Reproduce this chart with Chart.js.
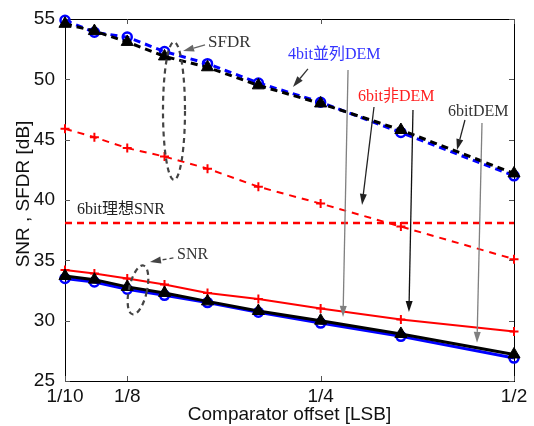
<!DOCTYPE html>
<html><head><meta charset="utf-8">
<script src="https://cdn.jsdelivr.net/npm/chart.js@4.4.0/dist/chart.umd.min.js"></script>
<style>html,body{margin:0;padding:0;background:#fff}#wrap{width:534px;height:426px;position:relative}</style>
</head><body><div id="wrap"><canvas id="c" width="534" height="426"></canvas></div>
<script>
// ---- data ----
const xValues = [1/10, 1/9, 1/8, 1/7, 1/6, 1/5, 1/4, 1/3, 1/2];
const xTickValues = [0.1, 0.125, 0.25, 0.5];
const xTickLabels = ['1/10', '1/8', '1/4', '1/2'];
const yMin = 25, yMax = 55, yStep = 5;
const sfdr4bitDEM   = [54.9, 53.9, 53.5, 52.3, 51.3, 49.7, 48.1, 45.6, 42.0];
const sfdr6bitDEM   = [54.6, 54.0, 53.1, 51.9, 51.0, 49.5, 48.0, 45.8, 42.2];
const sfdr6bitNoDEM = [45.9, 45.2, 44.3, 43.6, 42.6, 41.1, 39.7, 37.8, 35.1];
const snrIdeal6bit  = 38.1;
const snr4bitDEM    = [33.5, 33.2, 32.6, 32.1, 31.5, 30.7, 29.8, 28.7, 26.9];
const snr6bitDEM    = [33.7, 33.4, 32.8, 32.3, 31.6, 30.8, 30.0, 28.9, 27.2];
const snr6bitNoDEM  = [34.2, 33.9, 33.5, 33.0, 32.3, 31.8, 31.0, 30.1, 29.1];
const xTitle = 'Comparator offset [LSB]';
const yTitle = 'SNR , SFDR [dB]';
// annotation texts (anchored in data coordinates)
const labels = [
  {t:'SFDR',        x:0.167,  y:53.09, c:'#333333', s:17},
  {t:'4bit並列DEM', x:0.2224, y:52.02, c:'#3333ff', s:16},
  {t:'6bit非DEM',   x:0.2859, y:48.54, c:'#ff2020', s:16},
  {t:'6bitDEM',     x:0.3947, y:47.3,  c:'#333333', s:16},
  {t:'6bit理想SNR', x:0.1044, y:39.18, c:'#222222', s:16},
  {t:'SNR',         x:0.1494, y:35.45, c:'#333333', s:16}
];
const arrows = [
  {x1:0.1652, y1:52.85, x2:0.1527, y2:52.35, c:'#666666', d:false},
  {x1:0.2389, y1:50.86, x2:0.2264, y2:49.37, c:'#333333', d:false},
  {x1:0.2758, y1:50.77, x2:0.2709, y2:30.31, c:'#808080', d:false},
  {x1:0.3027, y1:47.71, x2:0.2900, y2:39.59, c:'#222222', d:false},
  {x1:0.3481, y1:47.46, x2:0.3431, y2:30.72, c:'#111111', d:false},
  {x1:0.4194, y1:46.63, x2:0.4076, y2:44.15, c:'#222222', d:false},
  {x1:0.4458, y1:46.38, x2:0.4379, y2:28.16, c:'#808080', d:false},
  {x1:0.1475, y1:35.2,  x2:0.1356, y2:34.87, c:'#444444', d:true}
];
const ellipses = [
  {x:0.1478, y:47.38},
  {x:0.1299, y:32.55}
];

const pts = arr => xValues.map((x,i)=>({x:x, y:arr[i]}));
const base = {tension:0, fill:false, clip:false};
const datasets = [
  Object.assign({}, base, {label:'SFDR 6bit DEM', data:pts(sfdr6bitDEM), borderColor:'#000', backgroundColor:'#000',
     borderWidth:3, borderDash:[7,5], pointStyle:'triangle', pointRadius:7, pointBorderWidth:1}),
  Object.assign({}, base, {label:'SFDR 4bit DEM', data:pts(sfdr4bitDEM), borderColor:'#0000ff', backgroundColor:'rgba(0,0,0,0)',
     borderWidth:3, borderDash:[7,5], pointStyle:'circle', pointRadius:4.5, pointBorderWidth:2.5}),
  Object.assign({}, base, {label:'SFDR 6bit non-DEM', data:pts(sfdr6bitNoDEM), borderColor:'#ff0000', backgroundColor:'#ff0000',
     borderWidth:2, borderDash:[7,6], pointStyle:'cross', pointRadius:4.5, pointBorderWidth:2}),
  Object.assign({}, base, {label:'6bit ideal SNR', data:[{x:xTickValues[0], y:snrIdeal6bit},{x:xTickValues[xTickValues.length-1], y:snrIdeal6bit}],
     borderColor:'#ff0000', borderWidth:2.5, borderDash:[7,5], pointRadius:0}),
  Object.assign({}, base, {label:'SNR 6bit DEM', data:pts(snr6bitDEM), borderColor:'#000', backgroundColor:'#000',
     borderWidth:3, pointStyle:'triangle', pointRadius:7, pointBorderWidth:1}),
  Object.assign({}, base, {label:'SNR 4bit DEM', data:pts(snr4bitDEM), borderColor:'#0000ff', backgroundColor:'rgba(0,0,0,0)',
     borderWidth:3, pointStyle:'circle', pointRadius:4.5, pointBorderWidth:2.5}),
  Object.assign({}, base, {label:'SNR 6bit non-DEM', data:pts(snr6bitNoDEM), borderColor:'#ff0000', backgroundColor:'#ff0000',
     borderWidth:2, pointStyle:'cross', pointRadius:4.5, pointBorderWidth:2})
];

function drawArrow(ctx, x1, y1, x2, y2, color, dashed){
  ctx.save();
  ctx.strokeStyle = color; ctx.fillStyle = color; ctx.lineWidth = 1.3;
  const a = Math.atan2(y2-y1, x2-x1), L = 11, W = 3.5;
  const bx = x2 - L*Math.cos(a), by = y2 - L*Math.sin(a);
  if (dashed) ctx.setLineDash([4,3]);
  ctx.beginPath(); ctx.moveTo(x1,y1); ctx.lineTo(bx,by); ctx.stroke();
  ctx.setLineDash([]);
  ctx.beginPath(); ctx.moveTo(x2,y2);
  ctx.lineTo(bx - W*Math.sin(a), by + W*Math.cos(a));
  ctx.lineTo(bx + W*Math.sin(a), by - W*Math.cos(a));
  ctx.closePath(); ctx.fill();
  ctx.restore();
}

const decor = {
  id:'decor',
  beforeDatasetsDraw(chart){
    const ctx = chart.ctx, xs = chart.scales.x, ys = chart.scales.y, ca = chart.chartArea;
    const X = v => xs.getPixelForValue(v), Y = v => ys.getPixelForValue(v);
    ctx.save();
    ctx.strokeStyle = '#000'; ctx.lineWidth = 1;
    ctx.strokeRect(Math.round(ca.left)+0.5, Math.round(ca.top)+0.5, Math.round(ca.right-ca.left), Math.round(ca.bottom-ca.top));
    ctx.strokeStyle = '#555';
    xs.ticks.forEach(t => {
      const px = Math.round(X(t.value))+0.5;
      ctx.beginPath(); ctx.moveTo(px, ca.bottom); ctx.lineTo(px, ca.bottom-5);
      ctx.moveTo(px, ca.top); ctx.lineTo(px, ca.top+5); ctx.stroke();
    });
    ys.ticks.forEach(t => {
      const py = Math.round(Y(t.value))+0.5;
      ctx.beginPath(); ctx.moveTo(ca.left, py); ctx.lineTo(ca.left+5, py);
      ctx.moveTo(ca.right, py); ctx.lineTo(ca.right-5, py); ctx.stroke();
    });
    ctx.restore();
  },
  afterDatasetsDraw(chart){
    const ctx = chart.ctx, xs = chart.scales.x, ys = chart.scales.y, ca = chart.chartArea;
    const X = v => xs.getPixelForValue(v), Y = v => ys.getPixelForValue(v);
    // ellipses
    ctx.save();
    ctx.strokeStyle = '#444'; ctx.lineWidth = 2.2; ctx.setLineDash([5,4]);
    const e0 = ellipses[0], e1 = ellipses[1];
    ctx.beginPath(); ctx.ellipse(X(e0.x), Y(e0.y), 11, 69, 0, 0, Math.PI*2); ctx.stroke();
    ctx.beginPath(); ctx.ellipse(X(e1.x), Y(e1.y), 9, 25, 0.22, 0, Math.PI*2); ctx.stroke();
    ctx.restore();
    // arrows
    arrows.forEach(a => drawArrow(ctx, X(a.x1), Y(a.y1), X(a.x2), Y(a.y2), a.c, a.d));
    // labels
    ctx.save();
    ctx.textBaseline = 'middle'; ctx.textAlign = 'left';
    labels.forEach(l => {
      ctx.font = l.s + 'px "Liberation Serif", "Noto Sans CJK TC", serif';
      ctx.fillStyle = l.c;
      ctx.fillText(l.t, X(l.x), Y(l.y));
    });
    ctx.restore();
    // axis titles
    ctx.save();
    ctx.fillStyle = '#111';
    ctx.font = '19px "Liberation Sans", Arial, sans-serif';
    ctx.textAlign = 'center'; ctx.textBaseline = 'middle';
    ctx.fillText(xTitle, (ca.left+ca.right)/2, 415);
    ctx.translate(24, (ca.top+ca.bottom)/2 - 6);
    ctx.rotate(-Math.PI/2);
    ctx.fillText(yTitle, 0, 0);
    ctx.restore();
  }
};

new Chart(document.getElementById('c'), {
  type:'line',
  data:{datasets:datasets},
  options:{
    responsive:false, animation:false,
    layout:{padding:{top:19, right:20, left:0, bottom:0}},
    plugins:{legend:{display:false}, tooltip:{enabled:false}},
    scales:{
      x:{type:'logarithmic', min:0.1, max:0.5,
         afterBuildTicks: s => { s.ticks = xTickValues.map(v => ({value:v})); },
         afterFit: s => { s.height = 45; },
         ticks:{autoSkip:false, maxRotation:0, padding:-4, color:'#111',
                font:{family:'"Liberation Sans", Arial, sans-serif', size:19},
                callback:(v,i) => xTickLabels[i]},
         grid:{display:false}, border:{display:false}},
      y:{type:'linear', min:yMin, max:yMax,
         afterFit: s => { s.width = 65; },
         ticks:{stepSize:yStep, padding:2, color:'#111',
                font:{family:'"Liberation Sans", Arial, sans-serif', size:19}},
         grid:{display:false}, border:{display:false}}
    }
  },
  plugins:[decor]
});
</script></body></html>
